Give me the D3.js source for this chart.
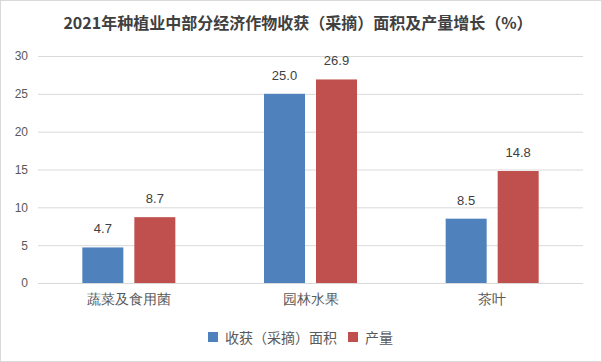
<!DOCTYPE html>
<html><head><meta charset="utf-8">
<script src="https://cdn.jsdelivr.net/npm/d3@7"></script>
<style>html,body{margin:0;padding:0;background:#fff;}svg{display:block;font-family:"Noto Sans CJK SC","Noto Sans",sans-serif;}</style>
</head><body>
<script>
const title = "2021年种植业中部分经济作物收获（采摘）面积及产量增长（%）";
const categories = ["蔬菜及食用菌", "园林水果", "茶叶"];
const seriesNames = ["收获（采摘）面积", "产量"];
const areaValues = [4.7, 25.0, 8.5];
const outputValues = [8.7, 26.9, 14.8];
const yTicks = [0, 5, 10, 15, 20, 25, 30];
const colors = ["#4F81BD", "#C0504D"];

const W = 602, H = 362;
const svg = d3.select("body").append("svg").attr("width", W).attr("height", H);
svg.append("rect").attr("x", 0.5).attr("y", 0.5).attr("width", W - 1).attr("height", H - 1)
  .attr("fill", "#fff").attr("stroke", "#D9D9D9");

svg.append("text").attr("x", 298).attr("y", 29).attr("text-anchor", "middle")
  .attr("font-size", 16).attr("font-weight", "bold").attr("fill", "#404040").text(title);

const x0 = d3.scaleBand().domain(categories).range([38, 583]);
const y = d3.scaleLinear().domain([0, 30]).range([283, 56]);

const grid = svg.append("g");
yTicks.forEach(t => {
  grid.append("line").attr("x1", 38).attr("x2", 583).attr("y1", y(t) + 0.5).attr("y2", y(t) + 0.5)
    .attr("stroke", "#D9D9D9").attr("stroke-width", 1);
});

const yAxis = d3.axisLeft(y).tickValues(yTicks).tickSize(0).tickPadding(0);
const ya = svg.append("g").attr("transform", "translate(28,0)").call(yAxis);
ya.select(".domain").remove();
ya.selectAll("text").attr("font-size", 12).attr("fill", "#595959").attr("font-family", "'Liberation Sans',sans-serif");

const xAxis = d3.axisBottom(x0).tickSize(0).tickPadding(0);
const xa = svg.append("g").attr("transform", "translate(0,294)").call(xAxis);
xa.select(".domain").remove();
xa.selectAll("text").attr("font-size", 14).attr("fill", "#595959");

const data = categories.map((c, i) => ({ c, vals: [areaValues[i], outputValues[i]] }));
const barW = 41, gap = 11;
const groups = svg.append("g").selectAll("g").data(data).join("g")
  .attr("transform", d => `translate(${x0(d.c) + x0.bandwidth() / 2 - (2 * barW + gap) / 2},0)`);
groups.selectAll("rect").data(d => d.vals.map((v, j) => ({ v, j }))).join("rect")
  .attr("x", d => d.j * (barW + gap)).attr("width", barW)
  .attr("y", d => y(d.v)).attr("height", d => y(0) - y(d.v))
  .attr("fill", d => colors[d.j]);
groups.selectAll("text").data(d => d.vals.map((v, j) => ({ v, j }))).join("text")
  .attr("x", d => d.j * (barW + gap) + barW / 2).attr("y", d => y(d.v) - 14)
  .attr("text-anchor", "middle").attr("font-size", 13).attr("fill", "#404040")
  .attr("font-family", "'Liberation Sans',sans-serif")
  .text(d => d.v.toFixed(1));

const legend = svg.append("g").attr("transform", "translate(208,332)");
const l1 = legend.append("g");
l1.append("rect").attr("width", 10).attr("height", 10).attr("fill", colors[0]);
l1.append("text").attr("x", 17).attr("y", 10.5).attr("font-size", 14).attr("fill", "#595959").text(seriesNames[0]);
const l2 = legend.append("g").attr("transform", "translate(140,0)");
l2.append("rect").attr("width", 10).attr("height", 10).attr("fill", colors[1]);
l2.append("text").attr("x", 17).attr("y", 10.5).attr("font-size", 14).attr("fill", "#595959").text(seriesNames[1]);
</script>
</body></html>
